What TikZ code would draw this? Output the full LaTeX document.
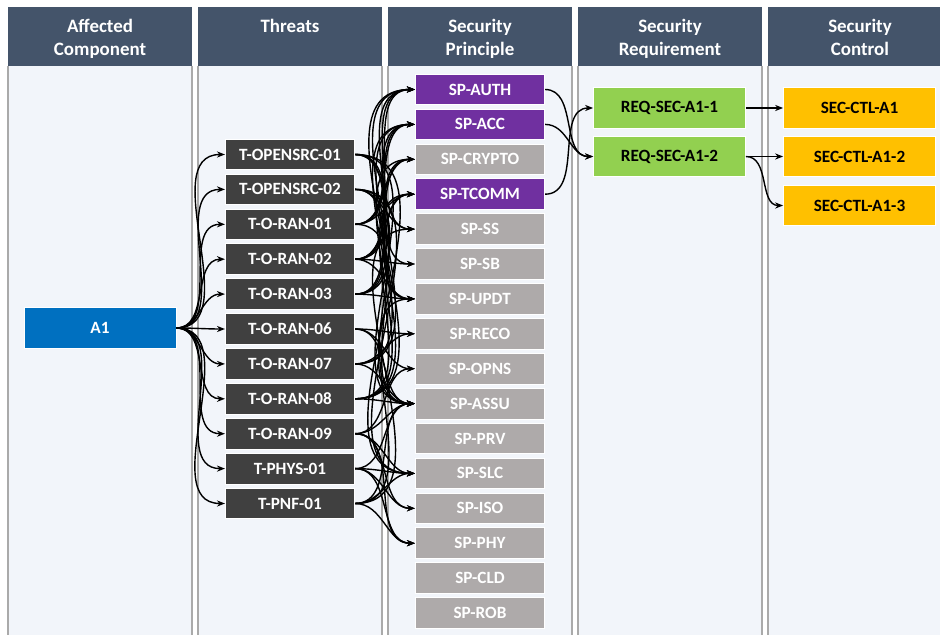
\documentclass[tikz,border=0pt]{standalone}
\usepackage{fontspec}
\setmainfont{Carlito}
\usetikzlibrary{arrows.meta}
\definecolor{hdrblue}{RGB}{68,84,106}
\definecolor{colbg}{RGB}{242,245,250}
\definecolor{colline}{RGB}{170,170,170}
\definecolor{thrgray}{RGB}{64,64,64}
\definecolor{spgray}{RGB}{174,170,170}
\definecolor{sppurple}{RGB}{112,48,160}
\definecolor{compblue}{RGB}{0,112,192}
\definecolor{reqgreen}{RGB}{146,208,80}
\definecolor{ctlorange}{RGB}{255,192,0}
\tikzset{
  hdrtext/.style={anchor=north, inner sep=0pt, align=center, text=white,
    font=\fontsize{14.2}{17.3}\selectfont\bfseries},
  box/.style={rectangle, inner sep=0pt, draw=white, line width=0.6pt,
    font=\fontsize{12.9}{15}\selectfont\bfseries},
  comp/.style={box, fill=compblue, text=white, minimum width=114pt, minimum height=31pt},
  threat/.style={box, fill=thrgray, text=white, minimum width=97pt, minimum height=23pt},
  sp/.style={box, fill=spgray, text=white, minimum width=97pt, minimum height=23pt},
  spx/.style={sp, fill=sppurple},
  req/.style={box, fill=reqgreen, minimum width=114pt, minimum height=30.5pt},
  ctl/.style={box, fill=ctlorange, minimum width=114pt, minimum height=30.5pt},
  link/.style={-{Stealth[length=6pt,width=4.6pt]}, line width=1.05pt},
}

\begin{document}
\begin{tikzpicture}[x=0.75pt, y=-0.75pt]
            \useasboundingbox (0,0) rectangle (940,635);

            \foreach \xa/\xb in {8/192,198/382,388/572,578/762,768/946} {
                \fill[colbg] (\xa,66) rectangle (\xb,635);
                \draw[colline, line width=0.8pt] (\xa,66) -- (\xa,635) (\xb,66) -- (\xb,635);
                \fill[hdrblue] (\xa,7.5) rectangle (\xb,66);
            }

            \node[hdrtext] (h1) at (100,19) {Affected\\Component};
            \node[hdrtext] (h2) at (290,19) {Threats};
            \node[hdrtext] (h3) at (480,19) {Security\\Principle};
            \node[hdrtext] (h4) at (670,19) {Security\\Requirement};
            \node[hdrtext] (h5) at (860,19) {Security\\Control};

            \node[comp] (a1) at (100,328) {A1};

            \foreach \n/\txt [count=\i from 0] in {tos1/T-OPENSRC-01, tos2/T-OPENSRC-02,
                tr01/T-O-RAN-01, tr02/T-O-RAN-02, tr03/T-O-RAN-03, tr06/T-O-RAN-06,
                tr07/T-O-RAN-07, tr08/T-O-RAN-08, tr09/T-O-RAN-09, tphys/T-PHYS-01, tpnf/T-PNF-01}
                \node[threat] (\n) at (290,154.5+34.9*\i) {\txt};

            \foreach \n/\txt/\st [count=\j from 0] in {auth/SP-AUTH/spx, acc/SP-ACC/spx,
                crypto/SP-CRYPTO/sp, tcomm/SP-TCOMM/spx, ss/SP-SS/sp, sb/SP-SB/sp,
                updt/SP-UPDT/sp, reco/SP-RECO/sp, opns/SP-OPNS/sp, assu/SP-ASSU/sp,
                prv/SP-PRV/sp, slc/SP-SLC/sp, iso/SP-ISO/sp, phy/SP-PHY/sp,
                cld/SP-CLD/sp, rob/SP-ROB/sp}
                \node[\st] (\n) at (480,89.5+34.9*\j) {\txt};

            \node[req] (req1) at (669.5,108) {REQ-SEC-A1-1};
            \node[req] (req2) at (669.5,156.5) {REQ-SEC-A1-2};

            \node[ctl] (ctl1) at (859.5,108) {SEC-CTL-A1};
            \node[ctl] (ctl2) at (859.5,156.5) {SEC-CTL-A1-2};
            \node[ctl] (ctl3) at (859.5,205.5) {SEC-CTL-A1-3};

            \foreach \t in {tos1,tos2,tr01,tr02,tr03,tr06,tr07,tr08,tr09,tphys,tpnf}
                \draw[link] (a1.east) to[out=0,in=180] (\t.west);

            \foreach \t/\s in {tos1/ss, tos1/sb, tos1/updt, tos1/assu, tos1/slc,
                tos2/ss, tos2/updt, tos2/assu, tos2/slc,
                tr01/auth, tr01/acc, tr01/crypto, tr01/tcomm, tr01/assu,
                tr02/auth, tr02/acc, tr02/crypto, tr02/tcomm, tr02/sb, tr02/updt,
                tr03/auth, tr03/acc, tr03/crypto, tr03/tcomm, tr03/updt,
                tr06/reco, tr06/opns, tr06/assu,
                tr07/auth, tr07/acc, tr07/reco, tr07/assu,
                tr08/auth, tr08/acc, tr08/crypto, tr08/tcomm, tr08/assu,
                tr09/opns, tr09/assu, tr09/slc, tr09/iso, tr09/phy,
                tphys/phy, tphys/iso, tphys/slc, tphys/assu,
                tpnf/phy, tpnf/slc, tpnf/assu, tpnf/ss, tpnf/updt}
                \draw[link] (\t.east) to[out=0,in=180] (\s.west);

            \draw[link] (auth.east) to[out=0,in=180] (req2.west);
            \draw[link] (acc.east) to[out=0,in=180] (req2.west);
            \draw[link] (tcomm.east) to[out=0,in=180] (req1.west);

            \draw[link] (req1.east) to[out=0,in=180] (ctl1.west);
            \draw[link] (req2.east) to[out=0,in=180] (ctl2.west);
            \draw[link] (req2.east) to[out=0,in=180] (ctl3.west);

        \end{tikzpicture}
\end{document}
